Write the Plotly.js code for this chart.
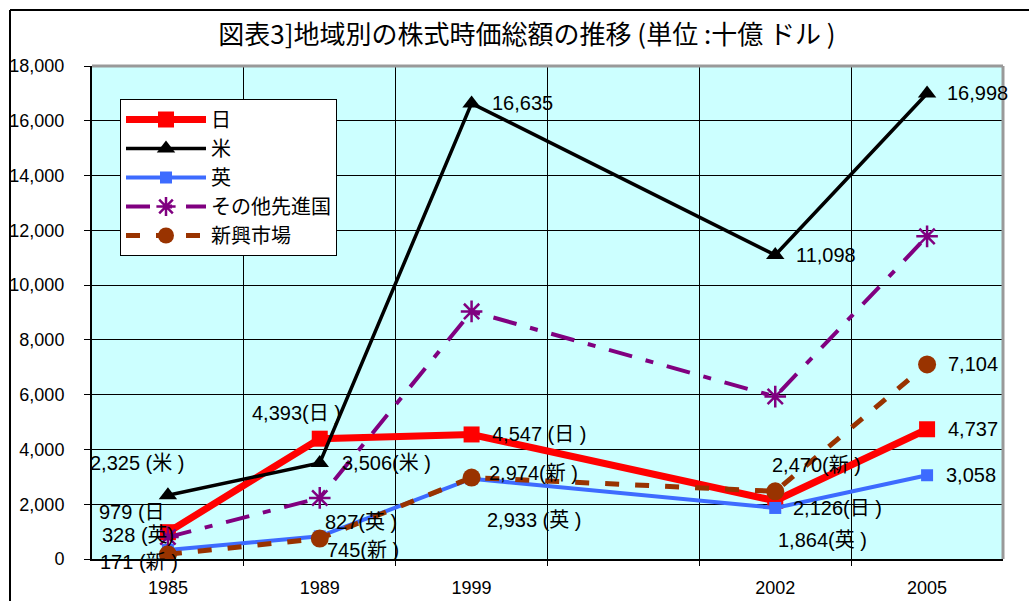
<!DOCTYPE html>
<html>
<head>
<meta charset="utf-8">
<script src="https://cdn.plot.ly/plotly-3.0.1.min.js"></script>
<style>
html,body{margin:0;padding:0;background:#fff;}
#chart{width:1029px;height:601px;}
</style>
</head>
<body>
<div id="chart"></div>
<script>
// ---- data ----
const years = ['1985', '1989', '1999', '2002', '2005'];
const xPos = [0, 1, 2, 4, 5]; // category slots (an empty slot between 1999 and 2002)
const seriesNames = ['日', '米', '英', 'その他先進国', '新興市場'];
const japan = [979, 4393, 4547, 2126, 4737];
const usa = [2325, 3506, 16635, 11098, 16998];
const uk = [328, 827, 2933, 1864, 3058];
const otherDeveloped = [800, 2230, 9040, 5930, 11780];
const emerging = [171, 745, 2974, 2470, 7104];
const yTicks = [0, 2000, 4000, 6000, 8000, 10000, 12000, 14000, 16000, 18000];

// label suffixes as printed on the chart
const japanSuffix = [' (日', '(日 )', ' (日 )', '(日 )', ''];
const usaSuffix = [' (米 )', '(米 )', '', '', ''];
const ukSuffix = [' (英)', '(英 )', ' (英 )', '(英 )', ''];
const emergingSuffix = [' (新 )', '(新 )', '(新 )', '(新 )', ''];

// ---- styles / label offsets (px) ----
const fontNum = 'Liberation Sans, Arial, Noto Sans CJK JP, sans-serif';
const fontJP = 'Noto Sans CJK JP, sans-serif';

const traces = [
  {name: seriesNames[0], x: xPos, y: japan, mode: 'lines+markers',
   line: {color: '#FF0000', width: 7}, marker: {symbol: 'square', size: 16, color: '#FF0000'}},
  {name: seriesNames[1], x: xPos, y: usa, mode: 'lines+markers',
   line: {color: '#000000', width: 3.5}, marker: {symbol: 'triangle-up', size: 16, color: '#000000'}},
  {name: seriesNames[2], x: xPos, y: uk, mode: 'lines+markers',
   line: {color: '#3D6BFF', width: 4}, marker: {symbol: 'square', size: 12, color: '#3D6BFF'}},
  {name: seriesNames[3], x: xPos, y: otherDeveloped, mode: 'lines+markers',
   line: {color: '#800080', width: 4, dash: '24px,14px,8px,14px'},
   marker: {symbol: 'asterisk-open', size: 18, color: '#800080', line: {color: '#800080', width: 2.5}}},
  {name: seriesNames[4], x: xPos, y: emerging, mode: 'lines+markers',
   line: {color: '#993300', width: 5, dash: '14px,16px'},
   marker: {symbol: 'circle', size: 18, color: '#993300'}}
];

function fmt(v) { return v.toLocaleString('en-US'); }

const annotations = [];
function addLabels(vals, suffix, offs) {
  vals.forEach((v, i) => {
    annotations.push({
      x: xPos[i], y: v, xref: 'x', yref: 'y',
      text: fmt(v) + suffix[i], showarrow: false,
      xanchor: 'left', yanchor: 'middle',
      xshift: offs[i][0], yshift: offs[i][1],
      font: {family: fontNum, size: 20, color: '#000'}
    });
  });
}
addLabels(japan, japanSuffix, [[-71, 20], [-70, 26], [18, 0], [16, -7], [19, 0]]);
addLabels(usa, usaSuffix, [[-80, 32], [20, 0], [18, 0], [19, 0], [18, 0]]);
addLabels(uk, ukSuffix, [[-68, 15], [3, 14], [13, -41], [1, -32], [17, 0]]);
addLabels(emerging, emergingSuffix, [[-70, -8], [5, -11], [15, 5], [-5, 26], [19, 0]]);

// plot area: x 92..1003, y 66..559
const L = 92, R = 1003, T = 66, B = 559, W = 1029, H = 601;
const pw = R - L, ph = B - T;
function px(xp) { return (xp - L) / pw; }
function py(yp) { return (B - yp) / ph; }

const shapes = [
  // outer chart border (left + top)
  {type: 'line', xref: 'paper', yref: 'paper', x0: px(10), x1: px(10), y0: py(605), y1: py(10), line: {color: '#000', width: 2}},
  {type: 'line', xref: 'paper', yref: 'paper', x0: px(10), x1: px(1035), y0: py(10), y1: py(10), line: {color: '#000', width: 2}},
  // plot area grey frame (top + right)
  {type: 'line', xref: 'paper', yref: 'paper', x0: 0, x1: 1, y0: 1, y1: 1, line: {color: '#999', width: 3}},
  {type: 'line', xref: 'paper', yref: 'paper', x0: 1, x1: 1, y0: 0, y1: 1, line: {color: '#999', width: 3}}
];

const layout = {
  width: W, height: H,
  margin: {l: L, r: W - R, t: T, b: H - B, pad: 0},
  paper_bgcolor: '#ffffff',
  plot_bgcolor: '#CCFFFF',
  title: {
    text: '図表3]地域別の株式時価総額の推移 (単位 :十億 ドル )',
    font: {family: fontJP, size: 26, color: '#000'},
    xref: 'container', x: 527 / W, xanchor: 'center',
    yref: 'container', y: 1 - 35 / H, yanchor: 'middle'
  },
  showlegend: true,
  legend: {
    x: px(120), y: py(99), xanchor: 'left', yanchor: 'top',
    bgcolor: '#ffffff', bordercolor: '#000', borderwidth: 1,
    font: {family: fontJP, size: 20, color: '#000'},
    itemwidth: 80, tracegroupgap: 0
  },
  xaxis: {
    range: [-0.5, 5.5], fixedrange: true,
    tickvals: xPos, ticktext: years,
    showgrid: false, zeroline: false,
    showline: true, linecolor: '#000', linewidth: 2,
    ticks: '', ticklabelstandoff: 11,
    tickfont: {family: fontNum, size: 18, color: '#000'},
    minor: {tickvals: [0.5, 1.5, 2.5, 3.5, 4.5], showgrid: true, gridcolor: '#000', gridwidth: 1,
            ticks: 'outside', ticklen: 5, tickcolor: '#000', tickwidth: 1}
  },
  yaxis: {
    range: [0, 18000], fixedrange: true,
    tickvals: yTicks, tickformat: ',d',
    showgrid: true, gridcolor: '#000', gridwidth: 1, zeroline: false,
    showline: true, linecolor: '#000', linewidth: 2,
    ticks: 'outside', ticklen: 6, tickcolor: '#000', tickwidth: 1,
    ticklabelstandoff: 16,
    tickfont: {family: fontNum, size: 18, color: '#000'}
  },
  annotations: annotations,
  shapes: shapes
};

Plotly.newPlot('chart', traces, layout, {displayModeBar: false, staticPlot: true});
</script>
</body>
</html>
